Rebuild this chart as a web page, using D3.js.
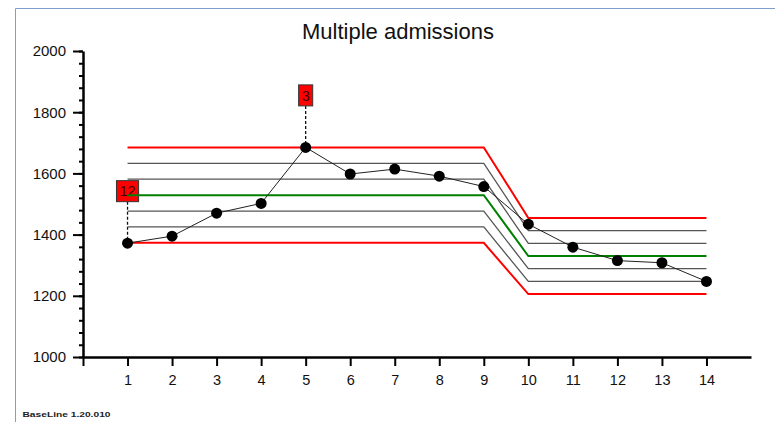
<!DOCTYPE html>
<html>
<head>
<meta charset="utf-8">
<script src="https://cdn.jsdelivr.net/npm/d3@7"></script>
<style>
  html, body { margin: 0; padding: 0; background: #fff; }
  svg { display: block; }
  svg text { font-family: "Liberation Sans", Arial, sans-serif; }
</style>
</head>
<body>
<svg id="chart" width="775" height="422"></svg>
<script>
// Multiple admissions per period, with control limits recalculated from period 10
const periods = [1, 2, 3, 4, 5, 6, 7, 8, 9, 10, 11, 12, 13, 14];
const admissions = [1372, 1395, 1470, 1502, 1685, 1598, 1614, 1591, 1557, 1434, 1359, 1315, 1308, 1247];

// Each phase: first and last period, centre line and sigma
const phaseStart = [1, 10];
const phaseEnd = [9, 14];
const phaseCentre = [1529, 1330];
const phaseSigma = [52, 41.5];
const sigmaLevels = [-3, -2, -1, 0, 1, 2, 3];

// Flagged points and the rule that fired
const flagPeriods = [1, 5];
const flagLabels = ["12", "3"];

const yTicks = [1000, 1200, 1400, 1600, 1800, 2000];
const yMinorTicks = d3.range(1000, 2001, 40);
const xTicks = [0, ...periods];

const FONT = "'Liberation Sans', Arial, sans-serif";
const svg = d3.select("#chart");

const x = d3.scaleLinear().domain([0, 15]).range([83, 751]);
const y = d3.scaleLinear().domain([1000, 2000]).range([357, 51]);

// window frame (top and left edges)
svg.append("line").attr("x1", 15.5).attr("x2", 775).attr("y1", 8.5).attr("y2", 8.5)
  .attr("stroke", "#7f9fd0").attr("stroke-width", 1);
svg.append("line").attr("x1", 15.5).attr("x2", 15.5).attr("y1", 8.5).attr("y2", 422)
  .attr("stroke", "#7f9fd0").attr("stroke-width", 1);

// title
svg.append("text")
  .attr("x", 398).attr("y", 39)
  .attr("text-anchor", "middle")
  .attr("font-family", FONT)
  .attr("font-size", 22)
  .attr("fill", "#111")
  .text("Multiple admissions");

// y axis: minor ticks, then labelled major ticks
svg.append("g")
  .attr("transform", `translate(${x(0)},0)`)
  .call(d3.axisLeft(y).tickValues(yMinorTicks).tickSize(4).tickFormat(""))
  .call(g => g.select(".domain").remove())
  .call(g => g.selectAll(".tick line").attr("stroke", "#000").attr("stroke-width", 2));

svg.append("g")
  .attr("transform", `translate(${x(0)},0)`)
  .call(d3.axisLeft(y).tickValues(yTicks).tickSize(10).tickSizeOuter(0).tickPadding(7).tickFormat(d3.format("d")))
  .call(g => g.select(".domain").attr("stroke", "#000").attr("stroke-width", 2.5))
  .call(g => g.selectAll(".tick line").attr("stroke", "#000").attr("stroke-width", 2))
  .call(g => g.selectAll(".tick text").attr("font-size", 15).attr("fill", "#111")
    .attr("font-family", FONT));

// x axis
svg.append("g")
  .attr("transform", `translate(0,${y(1000)})`)
  .call(d3.axisBottom(x).tickValues(xTicks).tickSize(9).tickSizeOuter(0).tickPadding(9)
    .tickFormat(d => d === 0 ? "" : d))
  .call(g => g.select(".domain").attr("stroke", "#000").attr("stroke-width", 2.5))
  .call(g => g.selectAll(".tick line").attr("stroke", "#000").attr("stroke-width", 2))
  .call(g => g.selectAll(".tick text").attr("font-size", 14.5).attr("fill", "#111")
    .attr("font-family", FONT));

// flag boxes with their leader lines
const flags = svg.append("g");
flagPeriods.forEach((p, i) => {
  const v = admissions[periods.indexOf(p)];
  const cx = x(p), cy = y(v) - 52;
  const g = flags.append("g");
  g.append("line")
    .attr("x1", cx).attr("x2", cx).attr("y1", cy + 10.5).attr("y2", y(v))
    .attr("stroke", "#111").attr("stroke-width", 1.3).attr("stroke-dasharray", "3,2");
  const rect = g.append("rect");
  const t = g.append("text")
    .attr("x", cx).attr("y", cy + 5.2)
    .attr("text-anchor", "middle")
    .attr("font-family", FONT)
    .attr("font-size", 14.5)
    .attr("fill", "#3a0000")
    .text(flagLabels[i]);
  const w = t.node().getComputedTextLength() + 6;
  rect.attr("x", cx - w / 2).attr("y", cy - 10.5).attr("width", w).attr("height", 21)
    .attr("fill", "#ff0000").attr("stroke", "#333").attr("stroke-width", 1);
});

// control limits, centre line and sigma bands
const limitLine = d3.line().x(d => x(d[0])).y(d => y(d[1]));
sigmaLevels.forEach(k => {
  const pts = [];
  phaseStart.forEach((s, i) => {
    const v = phaseCentre[i] + k * phaseSigma[i];
    pts.push([s, v], [phaseEnd[i], v]);
  });
  const colour = Math.abs(k) === 3 ? "#ff0000" : (k === 0 ? "#008000" : "#555");
  const width = Math.abs(k) === 3 || k === 0 ? 2 : 1.3;
  svg.append("path")
    .attr("d", limitLine(pts))
    .attr("fill", "none")
    .attr("stroke", colour)
    .attr("stroke-width", width);
});

// data line and points
const dataLine = d3.line().x((d, i) => x(periods[i])).y(d => y(d));
svg.append("path")
  .attr("d", dataLine(admissions))
  .attr("fill", "none")
  .attr("stroke", "#222")
  .attr("stroke-width", 1);

svg.append("g").selectAll("circle")
  .data(admissions)
  .join("circle")
  .attr("cx", (d, i) => x(periods[i]))
  .attr("cy", d => y(d))
  .attr("r", 5.5)
  .attr("fill", "#000");

// version stamp
svg.append("text")
  .attr("x", 22.5).attr("y", 416.5)
  .attr("font-family", FONT)
  .attr("font-size", 8)
  .attr("font-weight", "bold")
  .attr("fill", "#222")
  .attr("textLength", 88)
  .attr("lengthAdjust", "spacingAndGlyphs")
  .text("BaseLine 1.20.010");
</script>
</body>
</html>
